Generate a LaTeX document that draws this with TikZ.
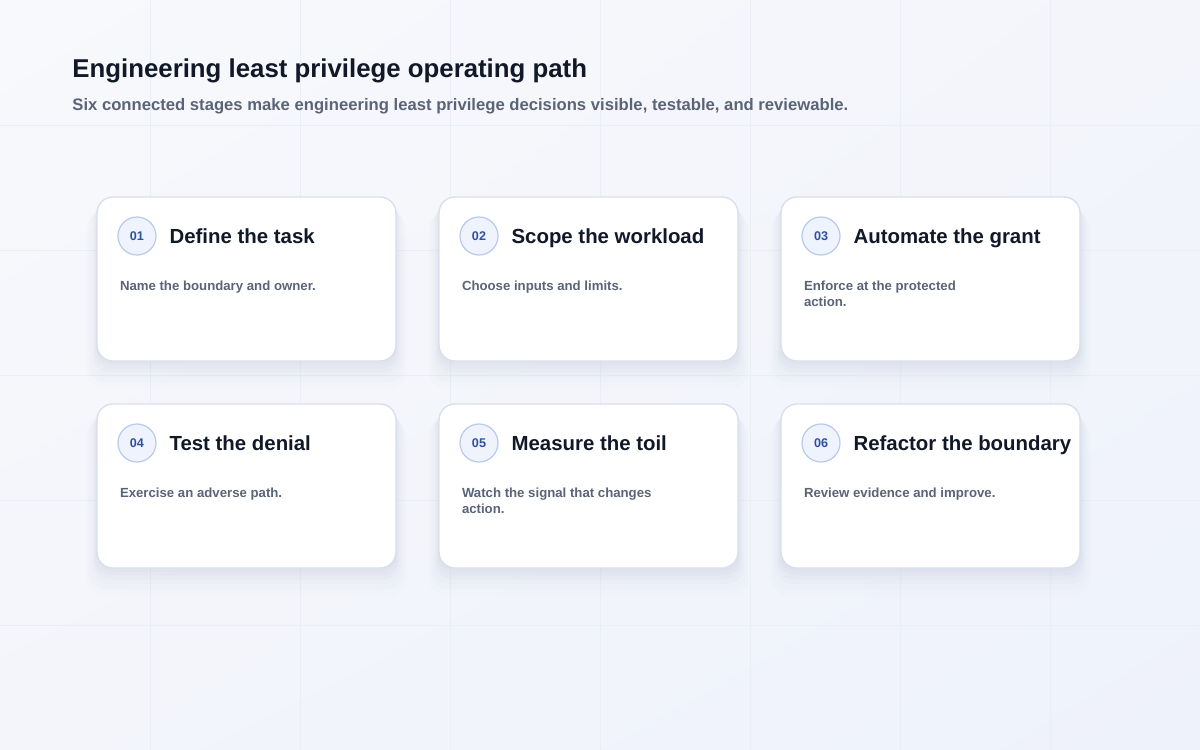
\documentclass[tikz,border=0pt]{standalone}
\usepackage{fontspec}
\setmainfont{Liberation Sans}
\usepackage{xcolor}
\usetikzlibrary{positioning}
\usetikzlibrary{shadows}
\usetikzlibrary{shadings}
\definecolor{ink}{HTML}{111827}
\definecolor{slate}{HTML}{5B6476}
\definecolor{edge}{HTML}{D9E0EB}
\definecolor{badgefill}{HTML}{EEF3FD}
\definecolor{badgeline}{HTML}{B8CAEA}
\definecolor{badgetext}{HTML}{2E50A0}
\definecolor{bgtop}{HTML}{F8F9FC}
\definecolor{bgmid}{HTML}{F3F5FB}
\definecolor{bgbot}{HTML}{EEF2FB}
\definecolor{gridc}{HTML}{EAEEF5}
\definecolor{shadowc}{HTML}{7F8FB5}

\begin{document}
\begin{tikzpicture}[x=0.5pt,y=-0.5pt,
  softshadow/.style={
    drop shadow={shadow xshift=0pt, shadow yshift=-1.5pt, opacity=0.035, fill=shadowc, shadow scale=1.005},
    drop shadow={shadow xshift=0pt, shadow yshift=-3pt, opacity=0.03, fill=shadowc, shadow scale=1.015},
    drop shadow={shadow xshift=0pt, shadow yshift=-4.5pt, opacity=0.03, fill=shadowc, shadow scale=1.025},
    drop shadow={shadow xshift=0pt, shadow yshift=-6pt, opacity=0.025, fill=shadowc, shadow scale=1.04},
    drop shadow={shadow xshift=0pt, shadow yshift=-8pt, opacity=0.02, fill=shadowc, shadow scale=1.055},
    drop shadow={shadow xshift=0pt, shadow yshift=-10pt, opacity=0.015, fill=shadowc, shadow scale=1.07}},
  card/.style={softshadow, draw=edge, line width=0.7pt, fill=white, rounded corners=8pt,
    minimum width=149.5pt, minimum height=82pt, anchor=north west, inner sep=0pt, outer sep=0pt},
  badge/.style={circle, draw=badgeline, line width=0.6pt, fill=badgefill, minimum size=19pt,
    inner sep=0pt, text=badgetext, font=\bfseries\fontsize{6.3}{7}\selectfont},
  stage/.style={inner sep=0pt, outer sep=0pt, text=ink, text height=0.72em, text depth=0pt,
    font=\bfseries\fontsize{10.2}{12}\selectfont},
  note/.style={inner sep=0pt, outer sep=0pt, align=left, text=slate, font=\bfseries\fontsize{6.6}{8.25}\selectfont}]
   \useasboundingbox (0,0) rectangle (1200,750);
   \shade[upper left=bgtop, upper right=bgmid, lower left=bgmid, lower right=bgbot] (0,0) rectangle (1200,750);
   \foreach \gx in {150,300,...,1050} \draw[gridc, line width=0.4pt] (\gx,0) -- (\gx,750);
   \foreach \gy in {125,250,...,625} \draw[gridc, line width=0.4pt] (0,\gy) -- (1200,\gy);

   % heading
   \node[anchor=base west, inner sep=0pt, text=ink, font=\bfseries\fontsize{12.9}{16}\selectfont] (title) at (72,77) {Engineering least privilege operating path};
   \node[anchor=base west, inner sep=0pt, text=slate, font=\bfseries\fontsize{8.33}{10}\selectfont] (subtitle) at (72,110) {Six connected stages make engineering least privilege decisions visible, testable, and reviewable.};

   % cards
   \node[card] (c1) at (97,197) {};
   \node[card, right=21.5pt of c1] (c2) {};
   \node[card, right=21.5pt of c2] (c3) {};
   \node[card, below=21.5pt of c1] (c4) {};
   \node[card, right=21.5pt of c4] (c5) {};
   \node[card, right=21.5pt of c5] (c6) {};

   \node[badge] (n1) at ([shift={(40,39)}]c1.north west) {01};
   \node[badge] (n2) at ([shift={(40,39)}]c2.north west) {02};
   \node[badge] (n3) at ([shift={(40,39)}]c3.north west) {03};
   \node[badge] (n4) at ([shift={(40,39)}]c4.north west) {04};
   \node[badge] (n5) at ([shift={(40,39)}]c5.north west) {05};
   \node[badge] (n6) at ([shift={(40,39)}]c6.north west) {06};

   \node[stage, right=6.5pt of n1] (t1) {Define the task};
   \node[stage, right=6.5pt of n2] (t2) {Scope the workload};
   \node[stage, right=6.5pt of n3] (t3) {Automate the grant};
   \node[stage, right=6.5pt of n4] (t4) {Test the denial};
   \node[stage, right=6.5pt of n5] (t5) {Measure the toil};
   \node[stage, right=6.5pt of n6] (t6) {Refactor the boundary};

   \node[note, below right=41.75pt and 11.5pt of c1.north west] (d1) {Name the boundary and owner.};
   \node[note, below right=41.75pt and 11.5pt of c2.north west] (d2) {Choose inputs and limits.};
   \node[note, below right=41.75pt and 11.5pt of c3.north west] (d3) {Enforce at the protected\\action.};
   \node[note, below right=41.75pt and 11.5pt of c4.north west] (d4) {Exercise an adverse path.};
   \node[note, below right=41.75pt and 11.5pt of c5.north west] (d5) {Watch the signal that changes\\action.};
   \node[note, below right=41.75pt and 11.5pt of c6.north west] (d6) {Review evidence and improve.};
\end{tikzpicture}
\end{document}
